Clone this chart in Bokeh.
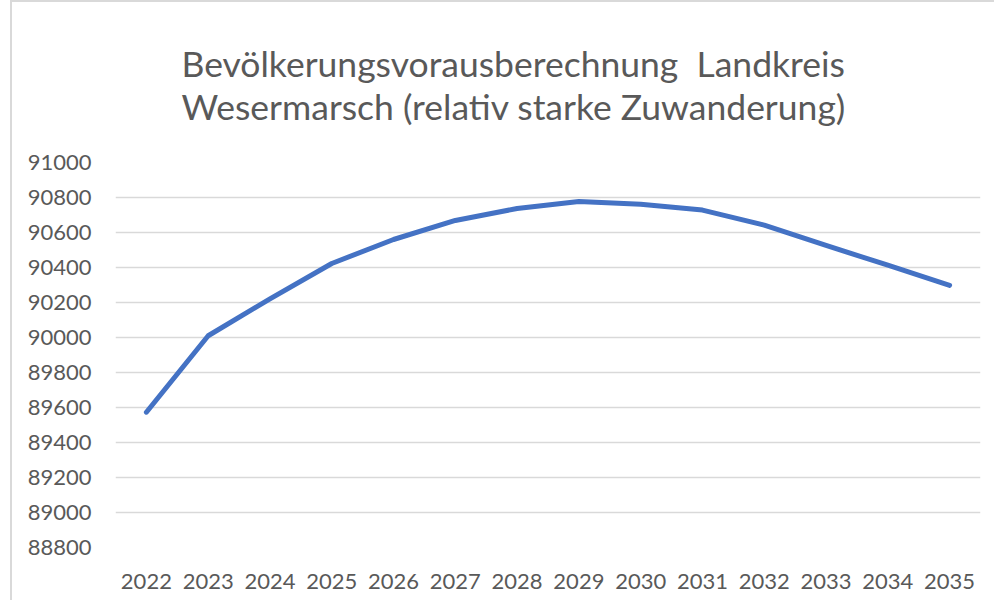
from bokeh.plotting import figure
from bokeh.models import Title, FixedTicker, Range1d, FactorRange
from bokeh.embed import file_html
from bokeh.resources import INLINE

years = ["2022", "2023", "2024", "2025", "2026", "2027", "2028",
         "2029", "2030", "2031", "2032", "2033", "2034", "2035"]
population = [89573, 90010, 90221, 90423, 90560, 90669, 90737,
              90777, 90762, 90728, 90642, 90526, 90413, 90298]
y_ticks = [88800, 89000, 89200, 89400, 89600, 89800, 90000,
           90200, 90400, 90600, 90800, 91000]
title_lines = ["Bevölkerungsvorausberechnung\u00a0\u00a0Landkreis",
               "Wesermarsch (relativ starke Zuwanderung)"]

FONT = "Lato"
GREY = "#595959"

p = figure(width=984, height=600, x_range=FactorRange(*years),
           y_range=Range1d(88800, 91000),
           output_backend="svg", toolbar_location=None,
           min_border_left=103, min_border_right=16,
           min_border_top=160, min_border_bottom=55)
p.styles = {"margin-top": "0px", "margin-left": "10px",
            "border-top": "2px solid #d9d9d9", "border-left": "2px solid #d9d9d9"}
p.title = None
p.outline_line_color = None
p.background_fill_color = "white"
p.border_fill_color = "white"

p.add_layout(Title(text="\n".join(title_lines), align="left", offset=66, standoff=70,
                   text_font=FONT, text_font_size="35.5px", text_font_style="normal",
                   text_color=GREY, text_line_height=1.0), "above")

p.line(years, population, line_color="#4472C4", line_width=5,
       line_cap="round", line_join="round")

p.xgrid.grid_line_color = None
p.ygrid.grid_line_color = "#d9d9d9"
p.ygrid.grid_line_width = 1.5
p.yaxis.ticker = FixedTicker(ticks=y_ticks)

for ax in (p.xaxis[0], p.yaxis[0]):
    ax.axis_line_color = None
    ax.major_tick_line_color = None
    ax.minor_tick_line_color = None
    ax.major_tick_out = 0
    ax.major_tick_in = 0
    ax.major_label_text_font = FONT
    ax.major_label_text_font_size = "22px"
    ax.major_label_text_color = GREY
p.yaxis.major_label_standoff = 24
p.xaxis.major_label_standoff = 26

open("out.html", "w").write(file_html(p, INLINE))
